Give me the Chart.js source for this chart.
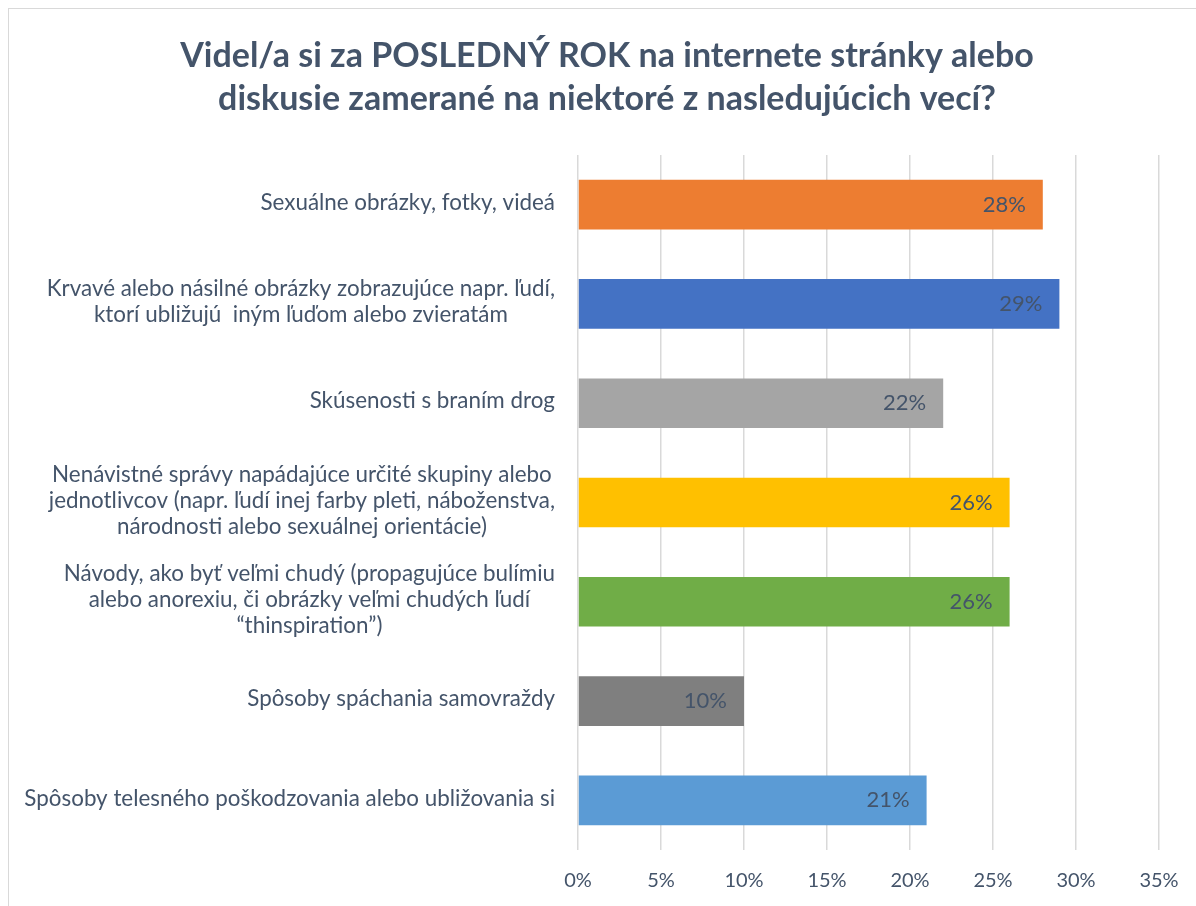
<!DOCTYPE html>
<html>
<head>
<meta charset="utf-8">
<script src="https://cdn.jsdelivr.net/npm/chart.js@4.4.0/dist/chart.umd.min.js"></script>
<style>
  html, body { margin: 0; padding: 0; background: #fff; overflow: hidden; }
  #frame { position: absolute; left: 8px; top: 8px; width: 1300px; height: 1000px; border: 1px solid #D9D9D9; }
  #wrap { position: absolute; left: 0; top: 0; width: 1196px; height: 906px; }
</style>
</head>
<body>
<div id="frame"></div>
<div id="wrap"><canvas id="graf"></canvas></div>
<script>
// kategórie (riadky popisu)
const categories = [
  ['Sexuálne obrázky, fotky, videá'],
  ['Krvavé alebo násilné obrázky zobrazujúce napr. ľudí,', 'ktorí ubližujú  iným ľuďom alebo zvieratám'],
  ['Skúsenosti s braním drog'],
  ['Nenávistné správy napádajúce určité skupiny alebo', 'jednotlivcov (napr. ľudí inej farby pleti, náboženstva,', 'národnosti alebo sexuálnej orientácie)'],
  ['Návody, ako byť veľmi chudý (propagujúce bulímiu', 'alebo anorexiu, či obrázky veľmi chudých ľudí', '“thinspiration”)'],
  ['Spôsoby spáchania samovraždy'],
  ['Spôsoby telesného poškodzovania alebo ubližovania si']
];
const values = [0.28, 0.29, 0.22, 0.26, 0.26, 0.10, 0.21];
const barColors = ['#ED7D31', '#4472C4', '#A5A5A5', '#FFC000', '#70AD47', '#7F7F7F', '#5B9BD5'];
const xMin = 0, xMax = 0.35, xStep = 0.05;
const titleLines = ['Videl/a si za POSLEDNÝ ROK na internete stránky alebo', 'diskusie zamerané na niektoré z nasledujúcich vecí?'];

const textColor = '#44546A';
const font = 'Lato, Calibri, sans-serif';

const pct = v => Math.round(v * 100) + '%';

// popisy kategórií: blok zarovnaný doprava, riadky centrované
const categoryLabels = {
  id: 'categoryLabels',
  afterDraw(chart) {
    const {ctx, scales: {y}, chartArea} = chart;
    ctx.save();
    ctx.font = '22.4px ' + font;
    ctx.fillStyle = textColor;
    ctx.textAlign = 'center';
    ctx.textBaseline = 'middle';
    const lh = 26;
    categories.forEach((lines, i) => {
      const yc = y.getPixelForValue(i) - 2;
      const w = Math.max(...lines.map(l => ctx.measureText(l).width));
      const cx = chartArea.left - 23 - w / 2;
      lines.forEach((l, j) => {
        ctx.fillText(l, cx, yc + (j - (lines.length - 1) / 2) * lh);
      });
    });
    ctx.restore();
  }
};

// hodnoty vo vnútri stĺpcov
const valueLabels = {
  id: 'valueLabels',
  afterDatasetsDraw(chart) {
    const {ctx} = chart;
    const meta = chart.getDatasetMeta(0);
    ctx.save();
    ctx.font = '22px ' + font;
    ctx.fillStyle = textColor;
    ctx.textAlign = 'right';
    ctx.textBaseline = 'middle';
    meta.data.forEach((bar, i) => {
      ctx.fillText(pct(values[i]), bar.x - 17, bar.y);
    });
    ctx.restore();
  }
};

new Chart(document.getElementById('graf'), {
  type: 'bar',
  data: {
    labels: categories,
    datasets: [{
      data: values,
      backgroundColor: barColors,
      barPercentage: 0.5,
      categoryPercentage: 1
    }]
  },
  options: {
    indexAxis: 'y',
    responsive: true,
    maintainAspectRatio: false,
    animation: false,
    layout: { padding: { left: 55, right: 37, top: 0, bottom: 0 } },
    plugins: {
      legend: { display: false },
      tooltip: { enabled: false },
      title: {
        display: true,
        text: titleLines,
        color: textColor,
        font: { family: font, size: 34, weight: 'bold', lineHeight: 1.265 },
        padding: { top: 35, bottom: 34 }
      }
    },
    scales: {
      x: {
        min: xMin,
        max: xMax,
        grid: { color: '#D9D9D9', lineWidth: 1.5, drawTicks: true, tickLength: 6, tickColor: 'rgba(0,0,0,0)' },
        border: { display: false },
        ticks: {
          stepSize: xStep,
          color: textColor,
          font: { family: font, size: 20, lineHeight: 1.0 },
          padding: 15,
          callback: v => pct(v)
        }
      },
      y: {
        grid: { display: false },
        border: { display: false },
        ticks: { display: false },
        afterFit(scale) { scale.width = 523; }
      }
    }
  },
  plugins: [categoryLabels, valueLabels]
});
</script>
</body>
</html>
